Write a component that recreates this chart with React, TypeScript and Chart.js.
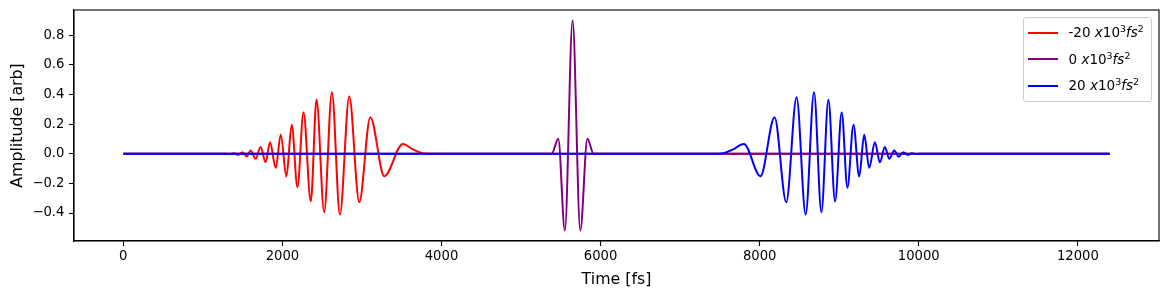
import React, { useEffect, useRef } from "react";
import { Chart, registerables } from "chart.js";

Chart.register(...registerables);

// Tick values
const xTicks = [0, 2000, 4000, 6000, 8000, 10000, 12000];
const yTicks = [-0.4, -0.2, 0.0, 0.2, 0.4, 0.6, 0.8];

// Series labels (chirp, x10^3 fs^2)
const seriesChirps = ["-20", "0", "20"];
const seriesColors = ["#ff0000", "#800080", "#0000ff"];

// -20 x10^3 fs^2 (red) : time [fs] and amplitude at extrema
const redTime = [0, 1290, 1340, 1390, 1445, 1496, 1550, 1600, 1663, 1726, 1789, 1844, 1916, 1979, 2050, 2117, 2189, 2265, 2357, 2429, 2525, 2622, 2723, 2840, 2966, 3105, 3281, 3513, 3640, 3760, 3820, 12400];
const redAmp = [0, 0, -0.002, 0.004, -0.007, 0.011, -0.018, 0.022, -0.034, 0.045, -0.057, 0.078, -0.095, 0.128, -0.153, 0.196, -0.226, 0.281, -0.322, 0.365, -0.394, 0.416, -0.41, 0.387, -0.327, 0.247, -0.151, 0.066, 0.03, 0.003, 0, 0];

// 0 x10^3 fs^2 (purple)
const purpleTime = [0, 5385, 5468, 5551, 5648, 5745, 5834, 5912, 12400];
const purpleAmp = [0, 0, 0.101, -0.518, 0.9, -0.518, 0.101, 0, 0];

// 20 x10^3 fs^2 (blue)
const blueTime = [0, 7480, 7545, 7665, 7801, 8010, 8187, 8334, 8464, 8578, 8683, 8776, 8864, 8948, 9031, 9103, 9179, 9251, 9314, 9377, 9448, 9511, 9574, 9629, 9692, 9747, 9806, 9860, 9915, 9965, 10015, 12400];
const blueAmp = [0, 0, 0.003, 0.03, 0.066, -0.151, 0.247, -0.327, 0.382, -0.41, 0.416, -0.394, 0.365, -0.322, 0.281, -0.23, 0.196, -0.153, 0.128, -0.095, 0.078, -0.057, 0.045, -0.034, 0.022, -0.02, 0.011, -0.007, 0.004, -0.002, 0, 0];

const FONT = "'DejaVu Sans', sans-serif";

const toPoints = (xs: number[], ys: number[]) => xs.map((x, i) => ({ x, y: ys[i] }));

const framePlugin = {
  id: "frame",
  afterDatasetsDraw(chart: any) {
    const { ctx, chartArea } = chart;
    ctx.save();
    ctx.strokeStyle = "#000";
    ctx.lineWidth = 1.1;
    ctx.strokeRect(chartArea.left, chartArea.top, chartArea.right - chartArea.left, chartArea.bottom - chartArea.top);
    ctx.restore();
  },
};

const clearPadding = (s: any) => {
  s.paddingTop = 0;
  s.paddingBottom = 0;
  s.paddingLeft = 0;
  s.paddingRight = 0;
};

export default function App() {
  const canvasRef = useRef<HTMLCanvasElement | null>(null);

  useEffect(() => {
    if (!canvasRef.current) return;
    const series = [
      { t: redTime, a: redAmp, order: 3 },
      { t: purpleTime, a: purpleAmp, order: 2 },
      { t: blueTime, a: blueAmp, order: 1 },
    ];
    const chart = new Chart(canvasRef.current, {
      type: "line",
      data: {
        datasets: series.map((s, i) => ({
          label: seriesChirps[i] + " x10^3fs^2",
          data: toPoints(s.t, s.a),
          borderColor: seriesColors[i],
          backgroundColor: seriesColors[i],
          borderWidth: 2,
          pointRadius: 0,
          tension: 0.4,
          cubicInterpolationMode: "monotone",
          fill: false,
          order: s.order,
        })),
      },
      options: {
        animation: false,
        responsive: false,
        devicePixelRatio: 1,
        layout: { padding: { left: 0, right: 10, top: 10, bottom: 0 } },
        plugins: { legend: { display: false }, tooltip: { enabled: false } },
        scales: {
          x: {
            type: "linear",
            min: -620,
            max: 13020,
            afterBuildTicks: (s: any) => {
              s.ticks = xTicks.map((v) => ({ value: v }));
            },
            afterFit: (s: any) => {
              s.height = 54;
              clearPadding(s);
            },
            grid: { drawOnChartArea: false, drawTicks: true, tickLength: 5, tickColor: "#000", tickWidth: 1.1 },
            border: { display: true, color: "#000", width: 1.1 },
            ticks: {
              padding: 3,
              color: "#000",
              autoSkip: false,
              maxRotation: 0,
              font: { family: FONT, size: 13.2 },
              callback: (v: any) => String(v),
            },
            title: {
              display: true,
              text: "Time [fs]",
              color: "#000",
              font: { family: FONT, size: 15.8 },
              padding: { top: 0, bottom: 5.5 },
            },
          },
          y: {
            type: "linear",
            min: -0.589,
            max: 0.971,
            afterBuildTicks: (s: any) => {
              s.ticks = yTicks.map((v) => ({ value: v }));
            },
            afterFit: (s: any) => {
              s.width = 74;
              clearPadding(s);
            },
            grid: { drawOnChartArea: false, drawTicks: true, tickLength: 5, tickColor: "#000", tickWidth: 1.1 },
            border: { display: true, color: "#000", width: 1.1 },
            ticks: {
              padding: 4.6,
              color: "#000",
              autoSkip: false,
              font: { family: FONT, size: 13.2 },
              callback: (v: any) => Number(v).toFixed(1).replace("-", "\u2212"),
            },
            title: {
              display: true,
              text: "Amplitude [arb]",
              color: "#000",
              font: { family: FONT, size: 15.8 },
              padding: { top: 8.5, bottom: 0 },
            },
          },
        },
      },
      plugins: [framePlugin],
    } as any);
    return () => chart.destroy();
  }, []);

  return (
    <div style={{ position: "absolute", left: 0, top: 0, width: 1169, height: 295, background: "#fff", overflow: "hidden" }}>
      <canvas ref={canvasRef} width={1169} height={295} style={{ display: "block", width: 1169, height: 295 }} />
      <div
        style={{
          position: "absolute",
          left: 1023,
          top: 17,
          width: 129,
          boxSizing: "border-box",
          border: "1px solid #cccccc",
          borderRadius: 3,
          background: "rgba(255,255,255,0.8)",
          padding: "1.3px 0",
          fontFamily: FONT,
          fontSize: 13.5,
          color: "#000",
        }}
      >
        {seriesChirps.map((c, i) => (
          <div key={i} style={{ display: "flex", alignItems: "center", height: 26.7, whiteSpace: "nowrap" }}>
            <div style={{ marginLeft: 4, width: 29.5, height: 2, background: seriesColors[i], flex: "none" }} />
            <span style={{ marginLeft: 11, lineHeight: 1 }}>
              {c + " "}
              <i>x</i>10<sup style={{ fontSize: "0.7em", verticalAlign: "0.5em", lineHeight: 0 }}>3</sup>
              <i>fs</i>
              <sup style={{ fontSize: "0.7em", verticalAlign: "0.5em", lineHeight: 0 }}>2</sup>
            </span>
          </div>
        ))}
      </div>
    </div>
  );
}
